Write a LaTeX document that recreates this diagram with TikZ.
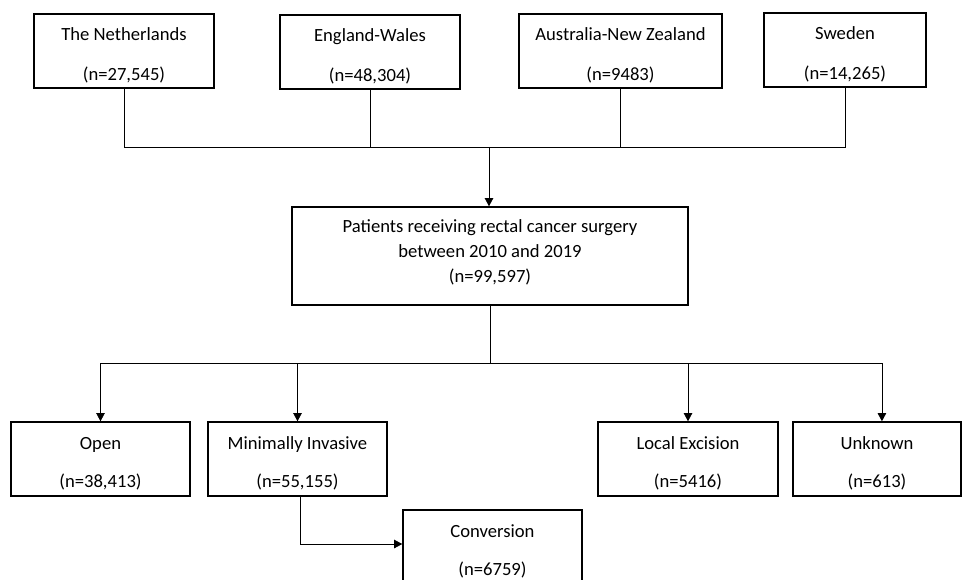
\documentclass[tikz,border=0pt]{standalone}
\usepackage{fontspec}
\setmainfont{Carlito}
\usetikzlibrary{arrows.meta,positioning}
\newcommand{\boxtext}[3][10.6pt]{\rule{0pt}{12pt}#2\\[#1]#3}

\begin{document}
\begin{tikzpicture}[x=0.02cm, y=-0.02cm,
  box/.style={rectangle, draw, line width=0.85pt, minimum height=1.48cm, align=center, inner sep=2pt, font=\fontsize{10.6}{12.4}\selectfont},
  ln/.style={line width=0.45pt},
  arr/.style={ln, -{Triangle[length=4.6pt, width=4.8pt]}}
]
  \useasboundingbox (0,0) rectangle (962,580);
  \node[box, minimum width=3.6cm] (nl) at (124,51) {\boxtext{The Netherlands}{(n=27,545)}};
  \node[box, minimum width=3.6cm] (ew) at (370,52) {\boxtext{England-Wales}{(n=48,304)}};
  \node[box, minimum width=4.06cm] (anz) at (620.5,51) {\boxtext{Australia-New Zealand}{(n=9483)}};
  \node[box, minimum width=3.24cm] (se) at (845,50) {\boxtext{Sweden}{(n=14,265)}};
  \node[box, minimum width=7.92cm, minimum height=1.96cm, font=\fontsize{10.6}{14.2}\selectfont] (pat) at (490,256)
    {Patients receiving rectal cancer surgery\\between 2010 and 2019\\(n=99,597)\rule[-6pt]{0pt}{0pt}};
  \node[box, minimum width=3.58cm] (open) at (100.5,459) {\boxtext[9pt]{Open}{(n=38,413)}};
  \node[box, minimum width=3.58cm] (mis) at (297.5,459) {\boxtext[9pt]{Minimally Invasive}{(n=55,155)}};
  \node[box, minimum width=3.6cm] (le) at (688,459) {\boxtext[9pt]{Local Excision}{(n=5416)}};
  \node[box, minimum width=3.36cm] (unk) at (877,459) {\boxtext[9pt]{Unknown}{(n=613)}};
  \node[box, minimum width=3.58cm] (conv) at (492.5,547) {\boxtext[9pt]{Conversion}{(n=6759)}};
  \coordinate (jtop) at (489,147);
  \coordinate (jbot) at (490,363);
  \draw[ln] (nl.south) -- (nl.south |- jtop) -- (se.south |- jtop) -- (se.south);
  \draw[ln] (ew.south) -- (ew.south |- jtop);
  \draw[ln] (anz.south) -- (anz.south |- jtop);
  \draw[arr] (jtop) -- (jtop |- pat.north);
  \draw[ln] (pat.south) -- (jbot);
  \draw[ln] (open.north |- jbot) -- ([xshift=2.8pt]unk.north |- jbot);
  \draw[arr] (open.north |- jbot) -- (open.north);
  \draw[arr] (mis.north |- jbot) -- (mis.north);
  \draw[arr] (le.north |- jbot) -- (le.north);
  \draw[arr] ([xshift=2.8pt]unk.north |- jbot) -- ([xshift=2.8pt]unk.north);
  \draw[arr] ([xshift=1.4pt]mis.south) |- ([yshift=1.7pt]conv.west);
\end{tikzpicture}
\end{document}
